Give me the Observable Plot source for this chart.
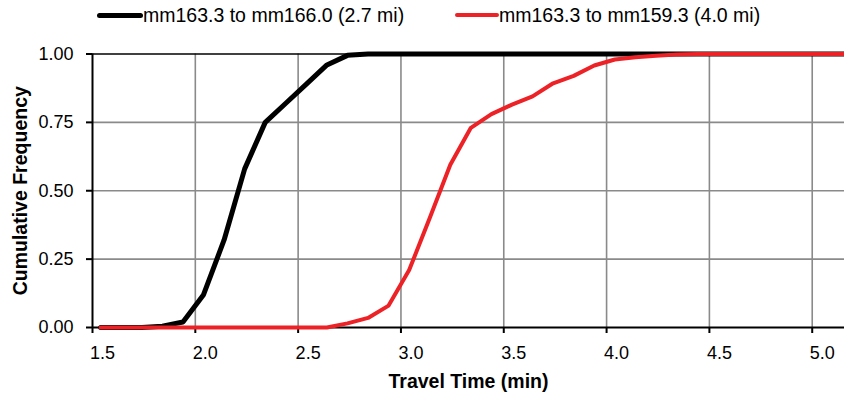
<!DOCTYPE html>
<html>
<head>
<meta charset="utf-8">
<script src="https://cdn.jsdelivr.net/npm/d3@7"></script>
<script src="https://cdn.jsdelivr.net/npm/@observablehq/plot@0.6"></script>
<style>
  html, body { margin: 0; padding: 0; background: #fff; }
  body { width: 844px; height: 395px; overflow: hidden; font-family: "Liberation Sans", Arial, sans-serif; }
  #legend { position: relative; height: 36px; width: 844px; }
  .item { position: absolute; top: 0; height: 30px; display: flex; align-items: center; font-size: 19.5px; color: #000; white-space: pre; }
  .sw { display: inline-block; height: 5px; border-radius: 3px; }
</style>
</head>
<body>
<div id="legend"></div>
<div id="chart"></div>
<script>
// Travel time (min) sample points
const times = [1.54, 1.64, 1.74, 1.84, 1.94, 2.04, 2.14, 2.24, 2.34, 2.44, 2.54, 2.64, 2.74, 2.84, 2.94, 3.04, 3.14, 3.24, 3.34, 3.44, 3.54, 3.64, 3.74, 3.84, 3.94, 4.04, 4.14, 4.24, 4.34, 4.44, 4.54, 4.64, 4.74, 4.84, 4.94, 5.04, 5.14, 5.24];
// mm163.3 to mm166.0 (2.7 mi)
const seriesA = [0, 0, 0, 0.005, 0.02, 0.12, 0.32, 0.58, 0.75, 0.82, 0.89, 0.96, 0.995, 1, 1, 1, 1, 1, 1, 1, 1, 1, 1, 1, 1, 1, 1, 1, 1, 1, 1, 1, 1, 1, 1, 1, 1, 1];
// mm163.3 to mm159.3 (4.0 mi)
const seriesB = [0, 0, 0, 0, 0, 0, 0, 0, 0, 0, 0, 0, 0.015, 0.035, 0.08, 0.21, 0.40, 0.595, 0.73, 0.78, 0.815, 0.845, 0.893, 0.92, 0.958, 0.98, 0.988, 0.994, 0.998, 1, 1, 1, 1, 1, 1, 1, 1, 1];
const seriesNames = ["mm163.3 to mm166.0 (2.7 mi)", "mm163.3 to mm159.3 (4.0 mi)"];
const seriesColors = ["#000000", "#ec2227"];
const xTicks = [1.5, 2.0, 2.5, 3.0, 3.5, 4.0, 4.5, 5.0];
const xGrid = [2.0, 2.5, 3.0, 3.5, 4.0, 4.5, 5.0];
const yTicks = [0, 0.25, 0.5, 0.75, 1];
const yGrid = [0.25, 0.5, 0.75];
const xTitle = "Travel Time (min)";
const yTitle = "Cumulative Frequency";

const rowsA = times.map((t, i) => ({t, v: seriesA[i]}));
const rowsB = times.map((t, i) => ({t, v: seriesB[i]}));

// Legend
const legend = document.getElementById("legend");
const legendLayout = [{left: 97, sw: 46}, {left: 455, sw: 44}];
seriesNames.forEach((name, i) => {
  const item = document.createElement("div");
  item.className = "item";
  item.style.left = legendLayout[i].left + "px";
  const sw = document.createElement("span");
  sw.className = "sw";
  sw.style.width = legendLayout[i].sw + "px";
  sw.style.background = seriesColors[i];
  if (i === 1) sw.style.height = "4.5px";
  const label = document.createElement("span");
  label.textContent = name;
  item.appendChild(sw);
  item.appendChild(label);
  legend.appendChild(item);
});

const chart = Plot.plot({
  width: 844,
  height: 359,
  marginLeft: 92,
  marginRight: 0,
  marginTop: 17.5,
  marginBottom: 68,
  x: {domain: [1.5, 5.157]},
  y: {domain: [0, 1]},
  style: {fontFamily: "'Liberation Sans', Arial, sans-serif", fontSize: "18px", color: "#000", background: "#fff"},
  marks: [
    Plot.gridX(xGrid, {stroke: "#8a8a8a", strokeOpacity: 1, strokeWidth: 1.6}),
    Plot.gridY(yGrid, {stroke: "#8a8a8a", strokeOpacity: 1, strokeWidth: 1.6}),
    Plot.ruleY([1], {stroke: "#000", strokeWidth: 1.6}),
    Plot.ruleY([0], {stroke: "#000", strokeWidth: 2}),
    Plot.ruleX([1.5], {stroke: "#000", strokeWidth: 2}),
    Plot.axisX(xTicks, {tickSize: 6, strokeWidth: 2, fill: "none", label: null}),
    Plot.axisX(xTicks, {tickSize: 0, tickPadding: 19, dx: 10, tickFormat: d3.format(".1f"), label: null, fontSize: 18}),
    Plot.axisY(yTicks, {tickSize: 6, strokeWidth: 2, tickPadding: 13, tickFormat: d3.format(".2f"), label: null, fontSize: 18}),
    Plot.line(rowsA, {x: "t", y: "v", stroke: seriesColors[0], strokeWidth: 5, strokeLinejoin: "round"}),
    Plot.line(rowsB, {x: "t", y: "v", stroke: seriesColors[1], strokeWidth: 4, strokeLinejoin: "round"}),
    Plot.text([xTitle], {frameAnchor: "bottom", dy: 54, fontWeight: "bold", fontSize: 19.5, textAnchor: "middle", lineAnchor: "middle"}),
    Plot.text([yTitle], {frameAnchor: "left", dx: -72, rotate: -90, fontWeight: "bold", fontSize: 19.5, textAnchor: "middle", lineAnchor: "middle"})
  ]
});
document.getElementById("chart").appendChild(chart);
</script>
</body>
</html>
